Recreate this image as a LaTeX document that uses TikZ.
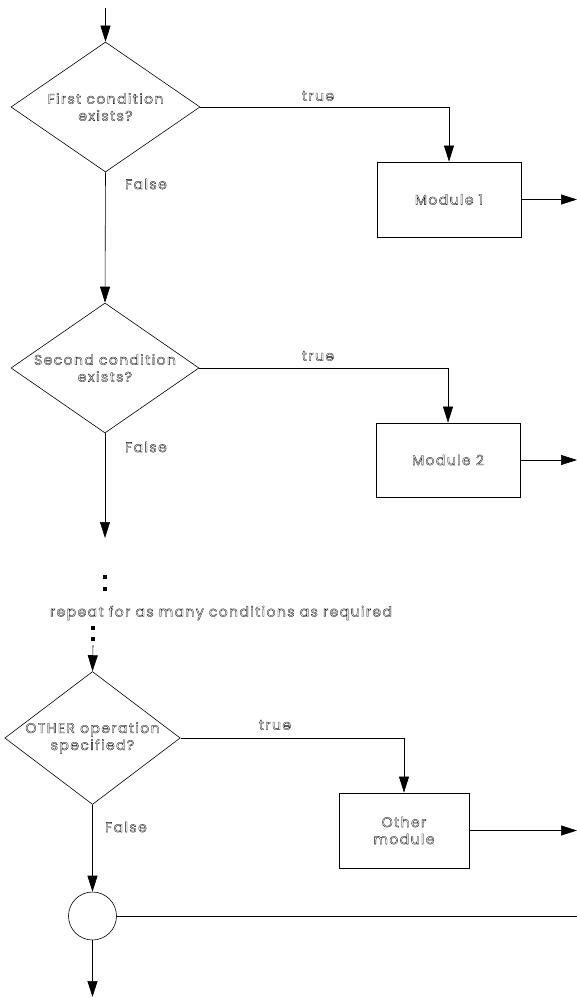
\documentclass[tikz,border=0pt]{standalone}
\usepackage{fontspec}
\setmainfont{Poppins}
\newfontfamily\lblfont[LetterSpace=10]{Poppins}
\usetikzlibrary{shapes.geometric,arrows.meta}
\newcommand{\hollow}[1]{\special{pdf:literal direct 1 Tr 0.3 w}#1\special{pdf:literal direct 0 Tr}}
\begin{document}
\begin{tikzpicture}[x=1pt,y=-1pt,
  every node/.style={font=\lblfont\fontsize{14}{17}\selectfont},
  line/.style={line width=0.6pt},
  arr/.style={line width=0.6pt,-{Triangle[length=16pt,width=10pt]}},
  dia/.style={draw,line width=0.6pt,diamond,aspect=1.45,inner sep=0pt,align=center},
  modbox/.style={draw,line width=0.8pt,rectangle,align=center,inner sep=2pt},
  dotmark/.style={fill=black,minimum size=3.2pt,inner sep=0pt,rectangle},
  lbl/.style={inner sep=1pt}]
\useasboundingbox (0,0) rectangle (577,998);
% decision 1
\coordinate (in1) at (105.5,8);
\node[dia,minimum width=189pt,minimum height=130pt] (d1) at (105.5,107) {\hollow{First condition}\\\hollow{exists?}};
\node[modbox,minimum width=144pt,minimum height=75pt] (m1) at (449,199.5) {\hollow{Module 1}};
\coordinate (o1) at (577,199.5);
\draw[arr] (in1) -- (d1.north);
\draw[arr] (d1.east) -| (m1.north);
\draw[arr] (m1.east) -- (o1);
\node[lbl] (t1) at (318,96) {\hollow{true}};
\node[lbl] (f1) at (146,184) {\hollow{False}};
% decision 2
\node[dia,minimum width=188pt,minimum height=130pt] (d2) at (105,368) {\hollow{Second condition}\\\hollow{exists?}};
\node[modbox,minimum width=144pt,minimum height=74pt] (m2) at (448,460) {\hollow{Module 2}};
\coordinate (o2) at (577,460);
\draw[arr] (d1.south) -- (d2.north);
\draw[arr] (d2.east) -| (m2.north);
\draw[arr] (m2.east) -- (o2);
\node[lbl] (t2) at (318,356) {\hollow{true}};
\node[lbl] (f2) at (146,447) {\hollow{False}};
\coordinate (e2) at (105,538);
\draw[arr] (d2.south) -- (e2);
\node[dotmark] (p1) at (105,577) {};
\node[dotmark] (p2) at (105,589) {};
\node[lbl] (rep) at (221,613) {\hollow{repeat for as many conditions as required}};
\node[dotmark] (p3) at (93,628) {};
\node[dotmark] (p4) at (93,639) {};
% decision 3
\coordinate (s3) at (93,645);
\node[dia,aspect=1.32,minimum width=171pt,minimum height=130pt] (d3) at (92.5,738) {\hollow{OTHER operation}\\\hollow{specified?}};
\node[modbox,minimum width=130pt,minimum height=75pt] (m3) at (404,830.5) {\hollow{Other}\\\hollow{module}};
\coordinate (o3) at (577,830.5);
\draw[arr] (s3) -- (d3.north);
\draw[arr] (d3.east) -| (m3.north);
\draw[arr] (m3.east) -- (o3);
\node[lbl] (t3) at (275,725) {\hollow{true}};
\node[lbl] (f3) at (126,827) {\hollow{False}};
% junction
\node[draw,circle,line width=0.6pt,minimum size=48pt,inner sep=0pt] (c) at (92.5,916) {};
\coordinate (cr) at (577,916);
\coordinate (cb) at (92.5,997);
\draw[arr] (d3.south) -- (c.north);
\draw[line] (c.east) -- (cr);
\draw[arr] (c.south) -- (cb);
\end{tikzpicture}
\end{document}
